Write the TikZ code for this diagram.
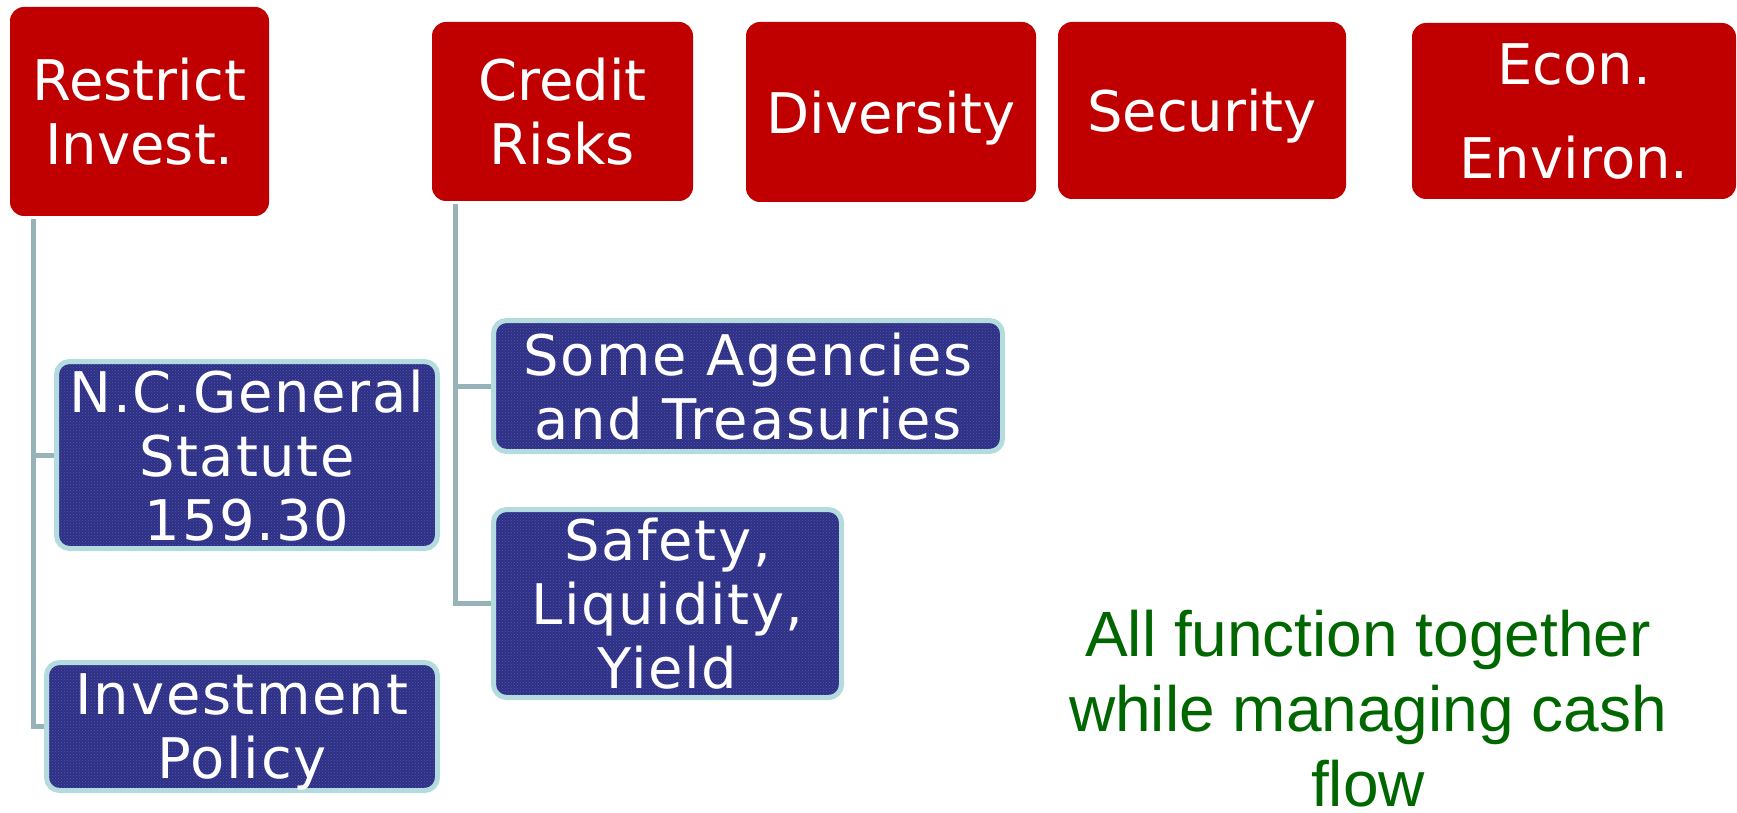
\documentclass[tikz,border=0pt]{standalone}
\usepackage{fontspec}
\setmainfont{DejaVu Sans}
\newfontfamily\subfont[LetterSpace=3]{DejaVu Sans}
\newfontfamily\notefont{Liberation Sans}
\usetikzlibrary{patterns}

\definecolor{boxred}{HTML}{C00000}
\definecolor{boxblue}{HTML}{2E3086}
\definecolor{boxdots}{HTML}{5456A6}
\definecolor{boxrim}{HTML}{B4DCDF}
\definecolor{linkgray}{HTML}{97B3B7}
\definecolor{notegreen}{HTML}{006600}

\tikzset{
  topbox/.style={rectangle, rounded corners=14pt, fill=boxred, text=white,
    align=center, inner sep=0pt, text depth=0pt,
    font=\fontsize{56}{64}\selectfont},
  subbox/.style={rectangle, rounded corners=13pt, fill=boxblue,
    postaction={pattern=crosshatch dots, pattern color=boxdots},
    postaction={draw=boxrim, line width=5pt},
    text=white, align=center, inner sep=0pt, text depth=0pt,
    font=\subfont\fontsize{56}{64}\selectfont},
  link/.style={draw=linkgray, line width=5pt},
  note/.style={text=notegreen, align=center, inner sep=0pt, text depth=0pt,
    font=\notefont\fontsize{64}{75}\selectfont},
}

\begin{document}
\begin{tikzpicture}[x=1pt, y=-1pt]
  \useasboundingbox (0,0) rectangle (1737,813);

  % top row
  \node[topbox, minimum width=259pt, minimum height=209pt] (restrict) at (139.5,111.5) {Restrict\\Invest.};
  \node[topbox, minimum width=261pt, minimum height=179pt] (credit) at (562.5,111.5) {Credit\\Risks};
  \node[topbox, minimum width=290pt, minimum height=180pt] (diversity) at (891,112) {Diversity};
  \node[topbox, minimum width=288pt, minimum height=177pt] (security) at (1202,110.5) {Security};
  \node[topbox, minimum width=324pt, minimum height=176pt, font=\fontsize{56}{94}\selectfont] (econ) at (1574,111) {Econ.\\Environ.};

  % second level
  \node[subbox, minimum width=381pt, minimum height=187pt] (statute) at (247,455) {N.C.General\\Statute\\159.30};
  \node[subbox, minimum width=391pt, minimum height=128pt] (policy) at (242,726.5) {Investment\\Policy};
  \node[subbox, minimum width=509pt, minimum height=131pt] (agencies) at (748,386) {Some Agencies\\and Treasuries};
  \node[subbox, minimum width=348pt, minimum height=188pt] (safety) at (667.5,603.5) {Safety,\\Liquidity,\\Yield};

  % links
  \coordinate (rtop) at ([xshift=24pt,yshift=-3pt]restrict.south west);
  \coordinate (ctop) at ([xshift=24pt,yshift=-3pt]credit.south west);
  \draw[link, shorten >=2.5pt] (rtop) |- (statute.west);
  \draw[link, shorten >=2.5pt] (rtop) |- (policy.west);
  \draw[link, shorten >=2.5pt] (ctop) |- (agencies.west);
  \draw[link, shorten >=2.5pt] (ctop) |- (safety.west);

  \node[note] (summary) at (1368,708) {All function together\\while managing cash\\flow};
\end{tikzpicture}
\end{document}
